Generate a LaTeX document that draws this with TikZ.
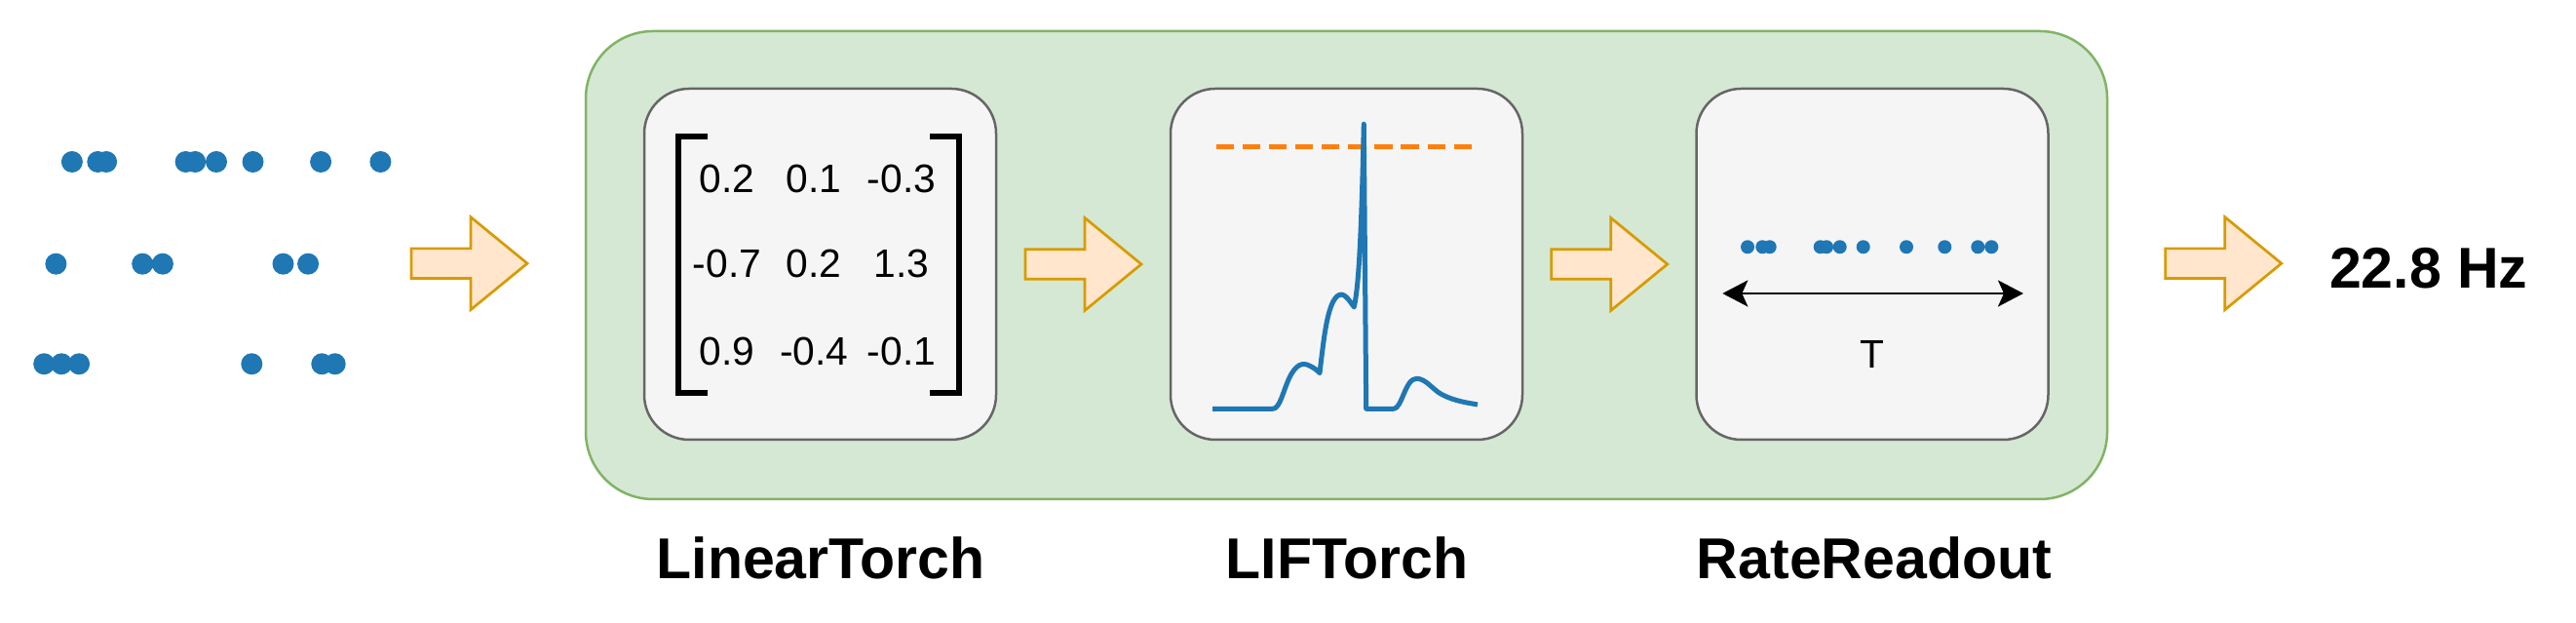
\documentclass[tikz,border=0pt]{standalone}
\usepackage{fontspec}
\setmainfont{Liberation Sans}
\usepackage{tikz}
\usetikzlibrary{arrows.meta,calc}
\definecolor{netfill}{HTML}{D5E8D4}
\definecolor{netline}{HTML}{82B366}
\definecolor{modfill}{HTML}{F5F5F5}
\definecolor{modline}{HTML}{666666}
\definecolor{arrowfill}{HTML}{FFE6CC}
\definecolor{arrowline}{HTML}{D79B00}
\definecolor{spikeblue}{HTML}{1F77B4}
\definecolor{threshorange}{HTML}{FF7F0E}

\begin{document}
\begin{tikzpicture}[
		network/.style={draw=netline,fill=netfill,line width=0.025cm,rounded corners=0.69cm,minimum width=15.61cm,minimum height=4.8cm},
		module/.style={draw=modline,fill=modfill,line width=0.025cm,rounded corners=0.46cm,minimum width=3.61cm,minimum height=3.6cm},
		title/.style={font=\fontsize{16.8}{19}\selectfont\bfseries,inner sep=0pt},
		entry/.style={font=\fontsize{11.6}{13}\selectfont,anchor=base,inner sep=0pt},
		bracket/.style={line width=0.06cm},
		spike/.style={fill=spikeblue},
		trace/.style={draw=spikeblue,line width=0.05cm,line join=round},
		threshold/.style={draw=threshorange,line width=0.05cm,dash pattern=on 0.183cm off 0.088cm},
		window/.style={{Stealth[length=0.26cm,width=0.27cm,inset=0.06cm]}-{Stealth[length=0.26cm,width=0.27cm,inset=0.06cm]},line width=0.027cm},
		flow/.pic={\draw[fill=arrowfill,draw=arrowline,line width=0.027cm] (-0.595,-0.153) -- (0.015,-0.153) -- (0.015,-0.475) -- (0.595,0) -- (0.015,0.475) -- (0.015,0.153) -- (-0.595,0.153) -- cycle;}
		]
		\useasboundingbox (0,0) rectangle (26.43,6.39);
		%Draw input spikes
		\fill[spike] (0.739,4.73) circle (0.11) (1.003,4.73) circle (0.11) (1.091,4.73) circle (0.11)
		(1.906,4.73) circle (0.11) (2.002,4.73) circle (0.11) (2.22,4.73) circle (0.11)
		(2.595,4.73) circle (0.11) (3.291,4.73) circle (0.11) (3.904,4.73) circle (0.11);
		\fill[spike] (0.574,3.683) circle (0.11) (1.462,3.683) circle (0.11) (1.669,3.683) circle (0.11)
		(2.905,3.683) circle (0.11) (3.161,3.683) circle (0.11);
		\fill[spike] (0.452,2.657) circle (0.11) (0.631,2.657) circle (0.11) (0.811,2.657) circle (0.11)
		(2.583,2.657) circle (0.11) (3.303,2.657) circle (0.11) (3.437,2.657) circle (0.11);
		
		%Draw network and modules
		\node[network] (net) at (13.815,3.67) {};
		\path (8.415,3.68) node[module] (lin) {}
		+(5.4,0) node[module] (lif) {}
		+(10.795,0) node[module] (rate) {};
		
		%Draw weight matrix
		\path (7.46,4.417) node[entry] (m11) {0.2}
		+(0.892,0) node[entry] (m12) {0.1}
		+(1.79,0) node[entry] (m13) {-0.3}
		+(0,-0.877) node[entry] (m21) {-0.7}
		+(0.892,-0.877) node[entry] (m22) {0.2}
		+(1.79,-0.877) node[entry] (m23) {1.3}
		+(0,-1.77) node[entry] (m31) {0.9}
		+(0.892,-1.77) node[entry] (m32) {-0.4}
		+(1.79,-1.77) node[entry] (m33) {-0.1};
		\draw[bracket] (7.257,4.993) -| (6.962,2.36) -- (7.257,2.36);
		\draw[bracket] (9.54,4.993) -| (9.842,2.36) -- (9.54,2.36);
		
		%Draw membrane trace
		\begin{scope}[shift={(lif.center)}]
			\draw[threshold] (-1.338,1.2) -- (1.285,1.2);
			\draw[trace] (-1.375,-1.483) -- (-0.755,-1.483)
			.. controls (-0.682,-1.483) and (-0.648,-1.29) .. (-0.582,-1.157)
			.. controls (-0.515,-1.023) and (-0.448,-1.007) .. (-0.382,-1.04)
			.. controls (-0.332,-1.063) and (-0.298,-1.09) .. (-0.275,-1.117)
			.. controls (-0.232,-0.757) and (-0.198,-0.423) .. (-0.098,-0.33)
			.. controls (-0.032,-0.273) and (0.018,-0.357) .. (0.078,-0.44)
			.. controls (0.125,-0.223) and (0.152,0.243) .. (0.178,1.437)
			-- (0.202,-1.483) -- (0.485,-1.483)
			.. controls (0.568,-1.483) and (0.602,-1.173) .. (0.718,-1.173)
			.. controls (0.818,-1.173) and (0.885,-1.29) .. (0.985,-1.34)
			.. controls (1.118,-1.407) and (1.252,-1.423) .. (1.345,-1.44);
		\end{scope}
		
		%Draw readout window
		\fill[spike] (17.93,3.857) circle (0.07) (18.083,3.857) circle (0.07) (18.157,3.857) circle (0.07)
		(18.677,3.857) circle (0.07) (18.74,3.857) circle (0.07) (18.877,3.857) circle (0.07)
		(19.117,3.857) circle (0.07) (19.56,3.857) circle (0.07) (19.953,3.857) circle (0.07)
		(20.293,3.857) circle (0.07) (20.433,3.857) circle (0.07);
		\coordinate (tstart) at (17.673,3.38);
		\coordinate (tend) at (20.76,3.38);
		\draw[window] (tstart) -- (tend);
		\node[entry] (period) at (19.21,2.61) {T};
		
		%Draw flow arrows
		\pic at (4.815,3.688) {flow};
		\pic at ($(lin.east)!0.5!(lif.west)$) {flow};
		\pic at ($(lif.east)!0.5!(rate.west)$) {flow};
		\pic at (22.813,3.688) {flow};
		
		%Draw names and output
		\path (8.42,0.455) node[title,anchor=base] (linname) {LinearTorch}
		+(5.4,0) node[title,anchor=base] (lifname) {LIFTorch}
		+(10.81,0) node[title,anchor=base] (ratename) {RateReadout};
		\node[title,anchor=base west] (rateout) at (23.893,3.433) {22.8 Hz};
	\end{tikzpicture}
\end{document}
